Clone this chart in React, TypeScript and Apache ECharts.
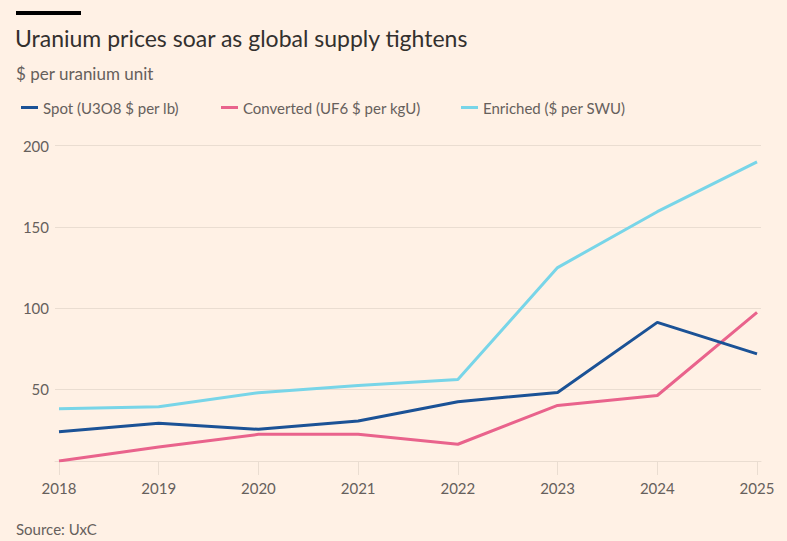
import React, { useEffect, useRef } from "react";
import * as echarts from "echarts";

const years = [2018, 2019, 2020, 2021, 2022, 2023, 2024, 2025];
const spot = [24, 29.3, 25.5, 30.6, 42.5, 48.2, 91.3, 71.9];
const converted = [6, 14.6, 22.4, 22.4, 16.3, 40.2, 46.3, 97.4];
const enriched = [38.2, 39.4, 48, 52.5, 56.1, 125, 159.4, 190];
const seriesNames = ["Spot (U3O8 $ per lb)", "Converted (UF6 $ per kgU)", "Enriched ($ per SWU)"];
const seriesColors = ["#1B5296", "#E9638C", "#78D5E8"];
const yTicks = [50, 100, 150, 200];

const FONT = "Lato, 'Noto Sans', sans-serif";
const BG = "#FFF1E5";
const GRID = "#EADDD1";
const TEXT = "#66605C";

export default function App() {
  const ref = useRef<HTMLDivElement>(null);
  useEffect(() => {
    if (!ref.current) return;
    const chart = echarts.init(ref.current, null, { renderer: "svg" });
    const allSeries = [spot, converted, enriched];
    const legendLeft = [16, 216, 456];
    chart.setOption({
      animation: false,
      backgroundColor: BG,
      textStyle: { fontFamily: FONT },
      graphic: [
        { type: "rect", shape: { x: 16, y: 11, width: 65, height: 4 }, style: { fill: "#000000" } },
        {
          type: "text", x: 15, y: 38,
          style: { text: "Uranium prices soar as global supply tightens", fontSize: 23, fontFamily: FONT, fill: "#33302E", verticalAlign: "middle" },
        },
        {
          type: "text", x: 16, y: 73,
          style: { text: "$ per uranium unit", fontSize: 17, fontFamily: FONT, fill: TEXT, verticalAlign: "middle" },
        },
        {
          type: "text", x: 16, y: 529,
          style: { text: "Source: UxC", fontSize: 15, fontFamily: FONT, fill: TEXT, verticalAlign: "middle" },
        },
      ],
      legend: seriesNames.map((n, i) => ({
        data: [n],
        left: legendLeft[i],
        top: 95,
        icon: "rect",
        itemWidth: 17,
        itemHeight: 3,
        itemGap: 9,
        textStyle: { fontSize: 15, color: TEXT, fontFamily: FONT },
        selectedMode: false,
      })),
      grid: { left: 55, right: 26, top: 145.7, bottom: 80, containLabel: false },
      xAxis: {
        type: "value",
        min: years[0] - 0.04,
        max: years[years.length - 1] + 0.04,
        axisLine: { show: true, lineStyle: { color: GRID, width: 1 } },
        axisTick: { show: true, customValues: years, length: 14, lineStyle: { color: GRID } },
        axisLabel: { customValues: years, fontSize: 15, color: TEXT, margin: 19, fontFamily: FONT, formatter: (v: number) => String(Math.round(v)) },
        splitLine: { show: false },
      },
      yAxis: {
        type: "value",
        min: converted[0],
        max: 200,
        splitNumber: 4,
        axisLine: { show: false },
        axisTick: { show: false },
        axisLabel: {
          customValues: yTicks,
          fontSize: 15, color: TEXT, margin: 6, fontFamily: FONT,
        },
        splitLine: { show: true, lineStyle: { color: GRID, width: 1 } },
      },
      series: seriesNames.map((n, i) => ({
        name: n,
        type: "line",
        data: years.map((y, j) => [y, allSeries[i][j]]),
        symbol: "none",
        lineStyle: { color: seriesColors[i], width: 3 },
        itemStyle: { color: seriesColors[i] },
        z: i === 0 ? 4 : 3,
      })),
    });
    return () => chart.dispose();
  }, []);
  return <div ref={ref} style={{ width: 787, height: 541, position: "absolute", left: 0, top: 0 }} />;
}
